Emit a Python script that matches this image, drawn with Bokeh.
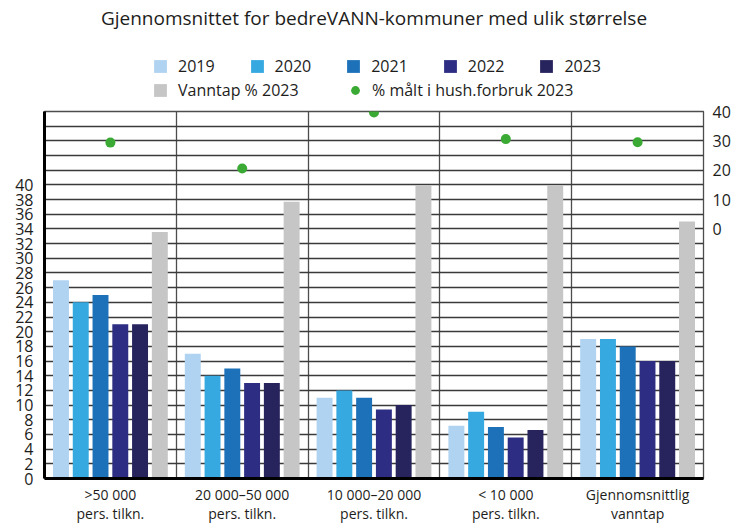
import numpy as np
from bokeh.plotting import figure
from bokeh.layouts import column
from bokeh.models import (ColumnDataSource, Range1d, LinearAxis, FixedTicker,
                          Legend, LegendItem)
from bokeh.embed import file_html
from bokeh.resources import INLINE

# ---------------- data ----------------
categories = [">50 000\npers. tilkn.", "20 000–50 000\npers. tilkn.",
              "10 000–20 000\npers. tilkn.", "< 10 000\npers. tilkn.",
              "Gjennomsnittlig\nvanntap"]
years = ["2019", "2020", "2021", "2022", "2023"]
v2019 = [27.0, 17.0, 11.0, 7.2, 19.0]
v2020 = [24.0, 14.0, 12.0, 9.1, 19.0]
v2021 = [25.0, 15.0, 11.0, 7.0, 18.0]
v2022 = [21.0, 13.0, 9.4, 5.6, 16.0]
v2023 = [21.0, 13.0, 10.0, 6.6, 16.0]
vanntap_2023 = [33.6, 37.7, 40.0, 40.0, 35.0]
maalt_hush_2023 = [29.4, 20.6, 39.7, 30.6, 29.5]
left_ticks = list(range(0, 41, 2))
right_ticks = [0, 10, 20, 30, 40]

series = [v2019, v2020, v2021, v2022, v2023, vanntap_2023]
labels = years + ["Vanntap % 2023"]
dot_label = "% målt i hush.forbruk 2023"
colors = ["#afd3f1", "#36a9e1", "#1d71b8", "#2d2e83", "#27235c", "#c6c6c6"]
dot_color = "#3aaa35"

FONT = "Open Sans"
TXT = "#1d1d1b"
W = 745

n = len(categories)
centers = np.arange(n) + 0.5
offsets = (np.arange(len(series)) - (len(series) - 1) / 2) * 0.15
bar_w = 0.121

# ---------------- main chart ----------------
p = figure(width=W, height=424, x_range=Range1d(0, n), y_range=Range1d(0, 50),
           output_backend="svg", toolbar_location=None, title=None,
           min_border_left=44, min_border_right=42,
           min_border_top=10, min_border_bottom=44)
p.extra_y_ranges = {"maalt": Range1d(-85, 40)}
p.background_fill_color = "white"
p.border_fill_color = "white"
p.outline_line_color = "#4d4d4d"
p.outline_line_width = 1.3

p.ygrid.ticker = FixedTicker(ticks=list(range(2, 50, 2)))
p.ygrid.grid_line_color = "#3a3a3a"
p.ygrid.grid_line_width = 1.3
p.xgrid.ticker = FixedTicker(ticks=list(range(1, n)))
p.xgrid.grid_line_color = "#4d4d4d"
p.xgrid.grid_line_width = 1.3

for vals, off, col in zip(series, offsets, colors):
    src = ColumnDataSource(dict(x=centers + off, top=vals))
    p.vbar(x="x", top="top", bottom=0, width=bar_w, source=src,
           fill_color=col, line_color=None)

dot_src = ColumnDataSource(dict(x=centers, y=maalt_hush_2023))
p.scatter(x="x", y="y", source=dot_src, y_range_name="maalt",
          size=10, fill_color=dot_color, line_color=None)

def style_axis(ax, size, standoff):
    ax.major_tick_line_color = None
    ax.minor_tick_line_color = None
    ax.major_tick_out = 0
    ax.major_tick_in = 0
    ax.minor_tick_out = 0
    ax.major_label_text_font = FONT
    ax.major_label_text_font_size = size
    ax.major_label_text_color = TXT
    ax.major_label_standoff = standoff

ya = p.yaxis[0]
ya.ticker = FixedTicker(ticks=left_ticks)
ya.axis_line_width = 3
ya.axis_line_color = "black"
style_axis(ya, "16px", 11)

ra = LinearAxis(y_range_name="maalt", ticker=FixedTicker(ticks=right_ticks))
ra.axis_line_color = None
style_axis(ra, "16px", 9)
p.add_layout(ra, "right")

xa = p.xaxis[0]
xa.ticker = FixedTicker(ticks=list(centers))
xa.major_label_overrides = {float(c): lab for c, lab in zip(centers, categories)}
xa.axis_line_width = 3
xa.axis_line_color = "black"
style_axis(xa, "14px", 6)
xa.major_label_text_line_height = 1.0

# ---------------- header: title + legend ----------------
h = figure(width=W, height=101, x_range=Range1d(0, 1), y_range=Range1d(0, 1),
           output_backend="svg", toolbar_location=None,
           x_axis_location=None, y_axis_location=None,
           min_border_left=0, min_border_right=0, min_border_top=0, min_border_bottom=0)
h.grid.visible = False
h.outline_line_color = None
h.background_fill_color = "white"
h.border_fill_color = "white"
h.title.text = "Gjennomsnittet for bedreVANN-kommuner med ulik størrelse"
h.title.align = "center"
h.title.text_font = FONT
h.title.text_font_size = "19px"
h.title.text_font_style = "normal"
h.title.text_color = TXT
h.title.standoff = 4

# legend-only glyphs (no visible data point: coordinates are NaN)
nan_src = lambda: ColumnDataSource(dict(x=[np.nan], y=[np.nan]))
leg_bars = [h.vbar(x="x", top="y", width=0.1, source=nan_src(),
                   fill_color=c, line_color=None) for c in colors]
leg_dot = h.scatter(x="x", y="y", source=nan_src(), size=10,
                    fill_color=dot_color, line_color=None)

def make_legend(items, loc, spacing, glyph=16, standoff=10):
    return Legend(items=items, orientation="horizontal", location=loc,
                  glyph_width=glyph, glyph_height=glyph, label_standoff=standoff,
                  label_height=16, spacing=spacing, padding=0, margin=0,
                  border_line_color=None, background_fill_alpha=0,
                  label_text_font=FONT, label_text_font_size="16px",
                  label_text_color=TXT)

l1 = make_legend([LegendItem(label=lab, renderers=[r])
                  for lab, r in zip(labels[:5], leg_bars[:5])], (108, 24), 34)
l2 = make_legend([LegendItem(label=labels[5], renderers=[leg_bars[5]])], (108, 0), 0)
l3 = make_legend([LegendItem(label=dot_label, renderers=[leg_dot])], (300, 0), 0,
                 glyph=22, standoff=6)
for lg in (l1, l2, l3):
    h.add_layout(lg, "center")

layout = column(h, p, spacing=0)
open("out.html", "w").write(file_html(layout, INLINE))
